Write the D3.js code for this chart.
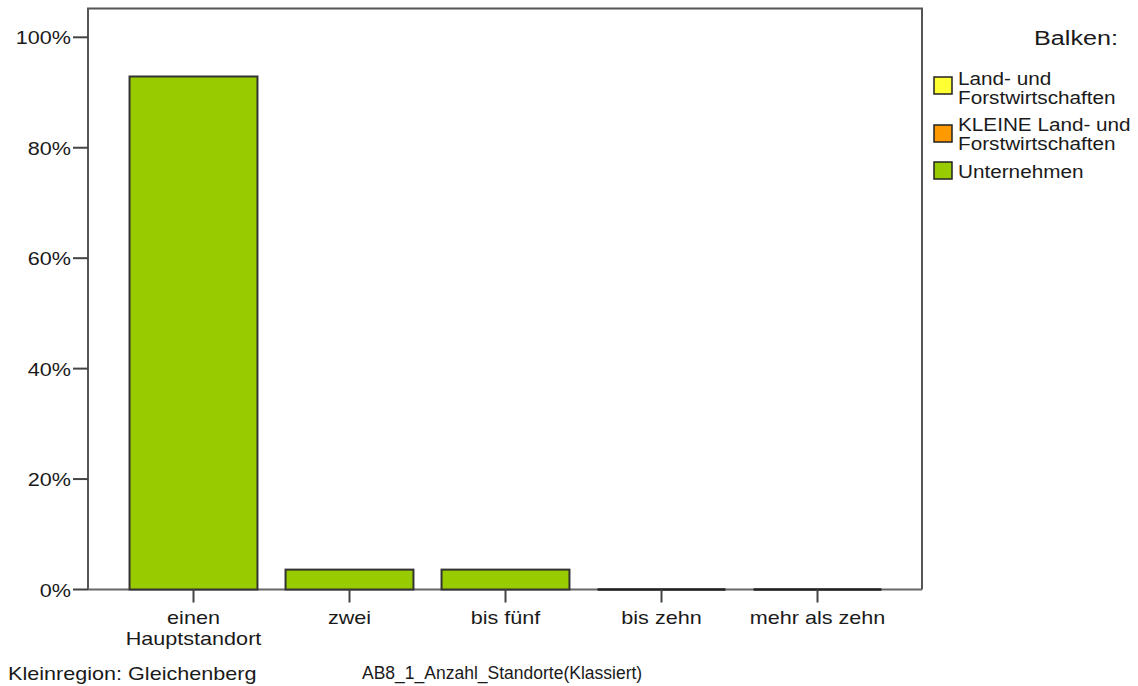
<!DOCTYPE html>
<html><head><meta charset="utf-8">
<script src="https://cdnjs.cloudflare.com/ajax/libs/d3/7.8.5/d3.min.js"></script>
<style>body{margin:0;background:#fff}svg{display:block;font-family:"Liberation Sans",Arial,sans-serif}</style>
</head><body><svg id="c" width="1138" height="686"></svg>
<script>
const categories = [["einen","Hauptstandort"],["zwei"],["bis fünf"],["bis zehn"],["mehr als zehn"]];
const values = [92.9, 3.6, 3.6, 0, 0];
const yTicks = [0, 20, 40, 60, 80, 100];
const legendItems = ["Land- und|Forstwirtschaften","KLEINE Land- und|Forstwirtschaften","Unternehmen"];
const legendColors = ["#ffff33","#ff9900","#99cc00"];

const svg = d3.select("#c");
const L=88, T=8.5, R=922, B=589.5;
const y = d3.scaleLinear().domain([0,100]).range([B,37.3]);
const x = d3.scaleBand().domain(d3.range(categories.length)).range([115.5,895.5]).paddingInner(0.18).paddingOuter(0.09);

function stext(g, px, py, size, anchor, lines, lh, sx){
  const t = g.append("text").attr("transform",`translate(${px},${py}) scale(${sx||1.2},1)`)
    .attr("text-anchor",anchor).attr("font-size",size).attr("fill","#1a1a1a");
  lines.forEach((s,k)=>t.append("tspan").attr("x",0).attr("dy",k?lh:0).text(s));
  return t;
}

// frame
svg.append("path").attr("d",`M${L},${B}V${T}H${R}V${B}`).attr("fill","none").attr("stroke","#555").attr("stroke-width",2);
svg.append("line").attr("x1",L).attr("x2",R).attr("y1",B).attr("y2",B).attr("stroke","#666").attr("stroke-width",2);

// bars
svg.selectAll("rect.bar").data(values.map((v,i)=>[v,i]).filter(d=>d[0]>0)).join("rect").attr("class","bar")
 .attr("x",d=>x(d[1])).attr("width",x.bandwidth())
 .attr("y",d=>y(d[0])).attr("height",d=>B-y(d[0]))
 .attr("fill","#99cc00").attr("stroke","#333").attr("stroke-width",2);
svg.selectAll("line.zero").data(values.map((v,i)=>[v,i]).filter(d=>d[0]===0)).join("line").attr("class","zero")
 .attr("x1",d=>x(d[1])).attr("x2",d=>x(d[1])+x.bandwidth()).attr("y1",B).attr("y2",B).attr("stroke","#222").attr("stroke-width",2.5);

// y axis
yTicks.forEach(t=>{
  svg.append("line").attr("x1",L-15).attr("x2",L).attr("y1",y(t)).attr("y2",y(t)).attr("stroke","#444").attr("stroke-width",2);
  stext(svg, L-17, y(t)+7, 18, "end", [t+"%"], 0);
});
// x axis
categories.forEach((c,i)=>{
  const cx = x(i)+x.bandwidth()/2;
  svg.append("line").attr("x1",cx).attr("x2",cx).attr("y1",B).attr("y2",B+13).attr("stroke","#444").attr("stroke-width",2);
  stext(svg, cx, 624, 18, "middle", c, 21);
});

// legend
stext(svg, 1118, 45, 21, "end", ["Balken:"], 0);
const sy=[77,125,162], ty=[85,131,178];
legendItems.forEach((s,i)=>{
  svg.append("rect").attr("x",934).attr("y",sy[i]).attr("width",18).attr("height",17).attr("fill",legendColors[i]).attr("stroke","#222").attr("stroke-width",1.5);
  stext(svg, 958, ty[i], 18.5, "start", s.split("|"), 19.5, 1.12);
});

stext(svg, 8, 680, 18, "start", ["Kleinregion: Gleichenberg"], 0);
svg.append("text").attr("x",362).attr("y",679).attr("font-size",17.5).attr("fill","#1a1a1a").text("AB8_1_Anzahl_Standorte(Klassiert)");
</script></body></html>
